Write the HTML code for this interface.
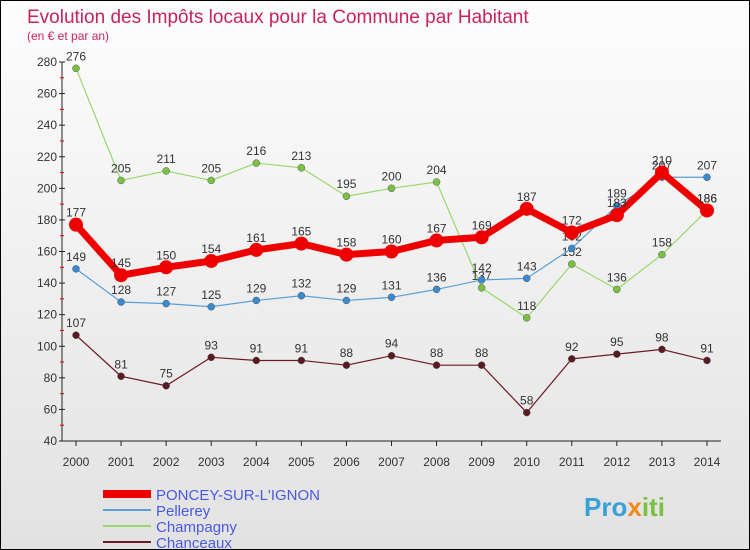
<!DOCTYPE html>
<html><head><meta charset="utf-8"><style>
body{margin:0}
#c{width:750px;height:550px;position:relative;box-sizing:border-box;border:1px solid #000;background:linear-gradient(#fdfdfd,#e2e2e2);font-family:"Liberation Sans",sans-serif;overflow:hidden}
</style></head><body>
<div id="c">
<svg width="750" height="550" id="s">
<text x="26" y="22" font-size="19" fill="#c8245a">Evolution des Impôts locaux pour la Commune par Habitant</text>
<text x="26" y="39" font-size="12" fill="#c8245a">(en € et par an)</text>
<g id="ax"></g><g id="series"></g><g id="lg"></g>
<text x="583" y="515" font-size="26" font-weight="bold" fill="#3aa0d8">Pro<tspan fill="#f08a1c">x</tspan><tspan fill="#7ac143">iti</tspan></text>
</svg>
</div>
<script>
const years=[2000,2001,2002,2003,2004,2005,2006,2007,2008,2009,2010,2011,2012,2013,2014];
const yTicks=[40,60,80,100,120,140,160,180,200,220,240,260,280];
const poncey=[177,145,150,154,161,165,158,160,167,169,187,172,183,210,186];
const pellerey=[149,128,127,125,129,132,129,131,136,142,143,162,189,207,207];
const champagny=[276,205,211,205,216,213,195,200,204,137,118,152,136,158,186];
const chanceaux=[107,81,75,93,91,91,88,94,88,88,58,92,95,98,91];
const names=["PONCEY-SUR-L'IGNON","Pellerey","Champagny","Chanceaux"];
const NS="http://www.w3.org/2000/svg";
const X=i=>75+i*(706-75)/14, Y=v=>440-(v-40)*(440-61)/240;
function mk(t,a,p){const e=document.createElementNS(NS,t);for(const k in a)e.setAttribute(k,a[k]);p.appendChild(e);return e;}
const ax=document.getElementById('ax'),sg=document.getElementById('series'),lg=document.getElementById('lg');
let l=mk('line',{x1:61,y1:61,x2:61,y2:440,stroke:'#222'},ax);


l=mk('line',{x1:61,y1:440,x2:720,y2:440,stroke:'#222'},ax);


yTicks.forEach(v=>{const t=mk('text',{x:56,y:Y(v)+4,'font-size':12,fill:'#333','text-anchor':'end'},ax);t.textContent=v;


mk('line',{x1:58,y1:Y(v),x2:64,y2:Y(v),stroke:'#222'},ax);
if(v<280)mk('line',{x1:59,y1:Y(v+10),x2:63,y2:Y(v+10),stroke:'#d00'},ax);});
years.forEach((y,i)=>{const t=mk('text',{x:X(i),y:465,'font-size':12,fill:'#333','text-anchor':'middle'},ax);t.textContent=y;


mk('line',{x1:X(i),y1:440,x2:X(i),y2:445,stroke:'#222'},ax);});
const S=[[chanceaux,'#6b1a22','#5a1a20',1.2,3.5],[champagny,'#9ad86a','#7ac143',1.2,3.5],[pellerey,'#5aa0d8','#3a8ad0',1.2,3.5],[poncey,'#e00','#e00',7,7]];
const order=[3,2,1,0];
S.forEach((s,k)=>{const d=s[0];const g=mk('g',{},sg);


mk('polyline',{points:d.map((v,i)=>X(i)+','+Y(v)).join(' '),fill:'none',stroke:s[1],'stroke-width':s[3],'stroke-linejoin':'round'},g);
d.forEach((v,i)=>{const c=mk('circle',{cx:X(i),cy:Y(v),r:s[4],fill:s[2],stroke:'#555','stroke-width':s[3]>2?0:0.5},g);


const t=mk('text',{x:X(i),y:Y(v)-8,'font-size':12,fill:'#333','text-anchor':'middle'},g);t.textContent=v;

});});
const lc=[['#e00',8],['#5aa0d8',2],['#9ad86a',2],['#6b1a22',2]];
names.forEach((n,i)=>{const y=493+i*16;const g=mk('g',{},lg);


mk('line',{x1:102,y1:y,x2:150,y2:y,stroke:lc[i][0],'stroke-width':lc[i][1]},g);
const t=mk('text',{x:155,y:y+6,'font-size':15,fill:'#4a5ae0'},g);t.textContent=n;});
</script>
</body></html>
